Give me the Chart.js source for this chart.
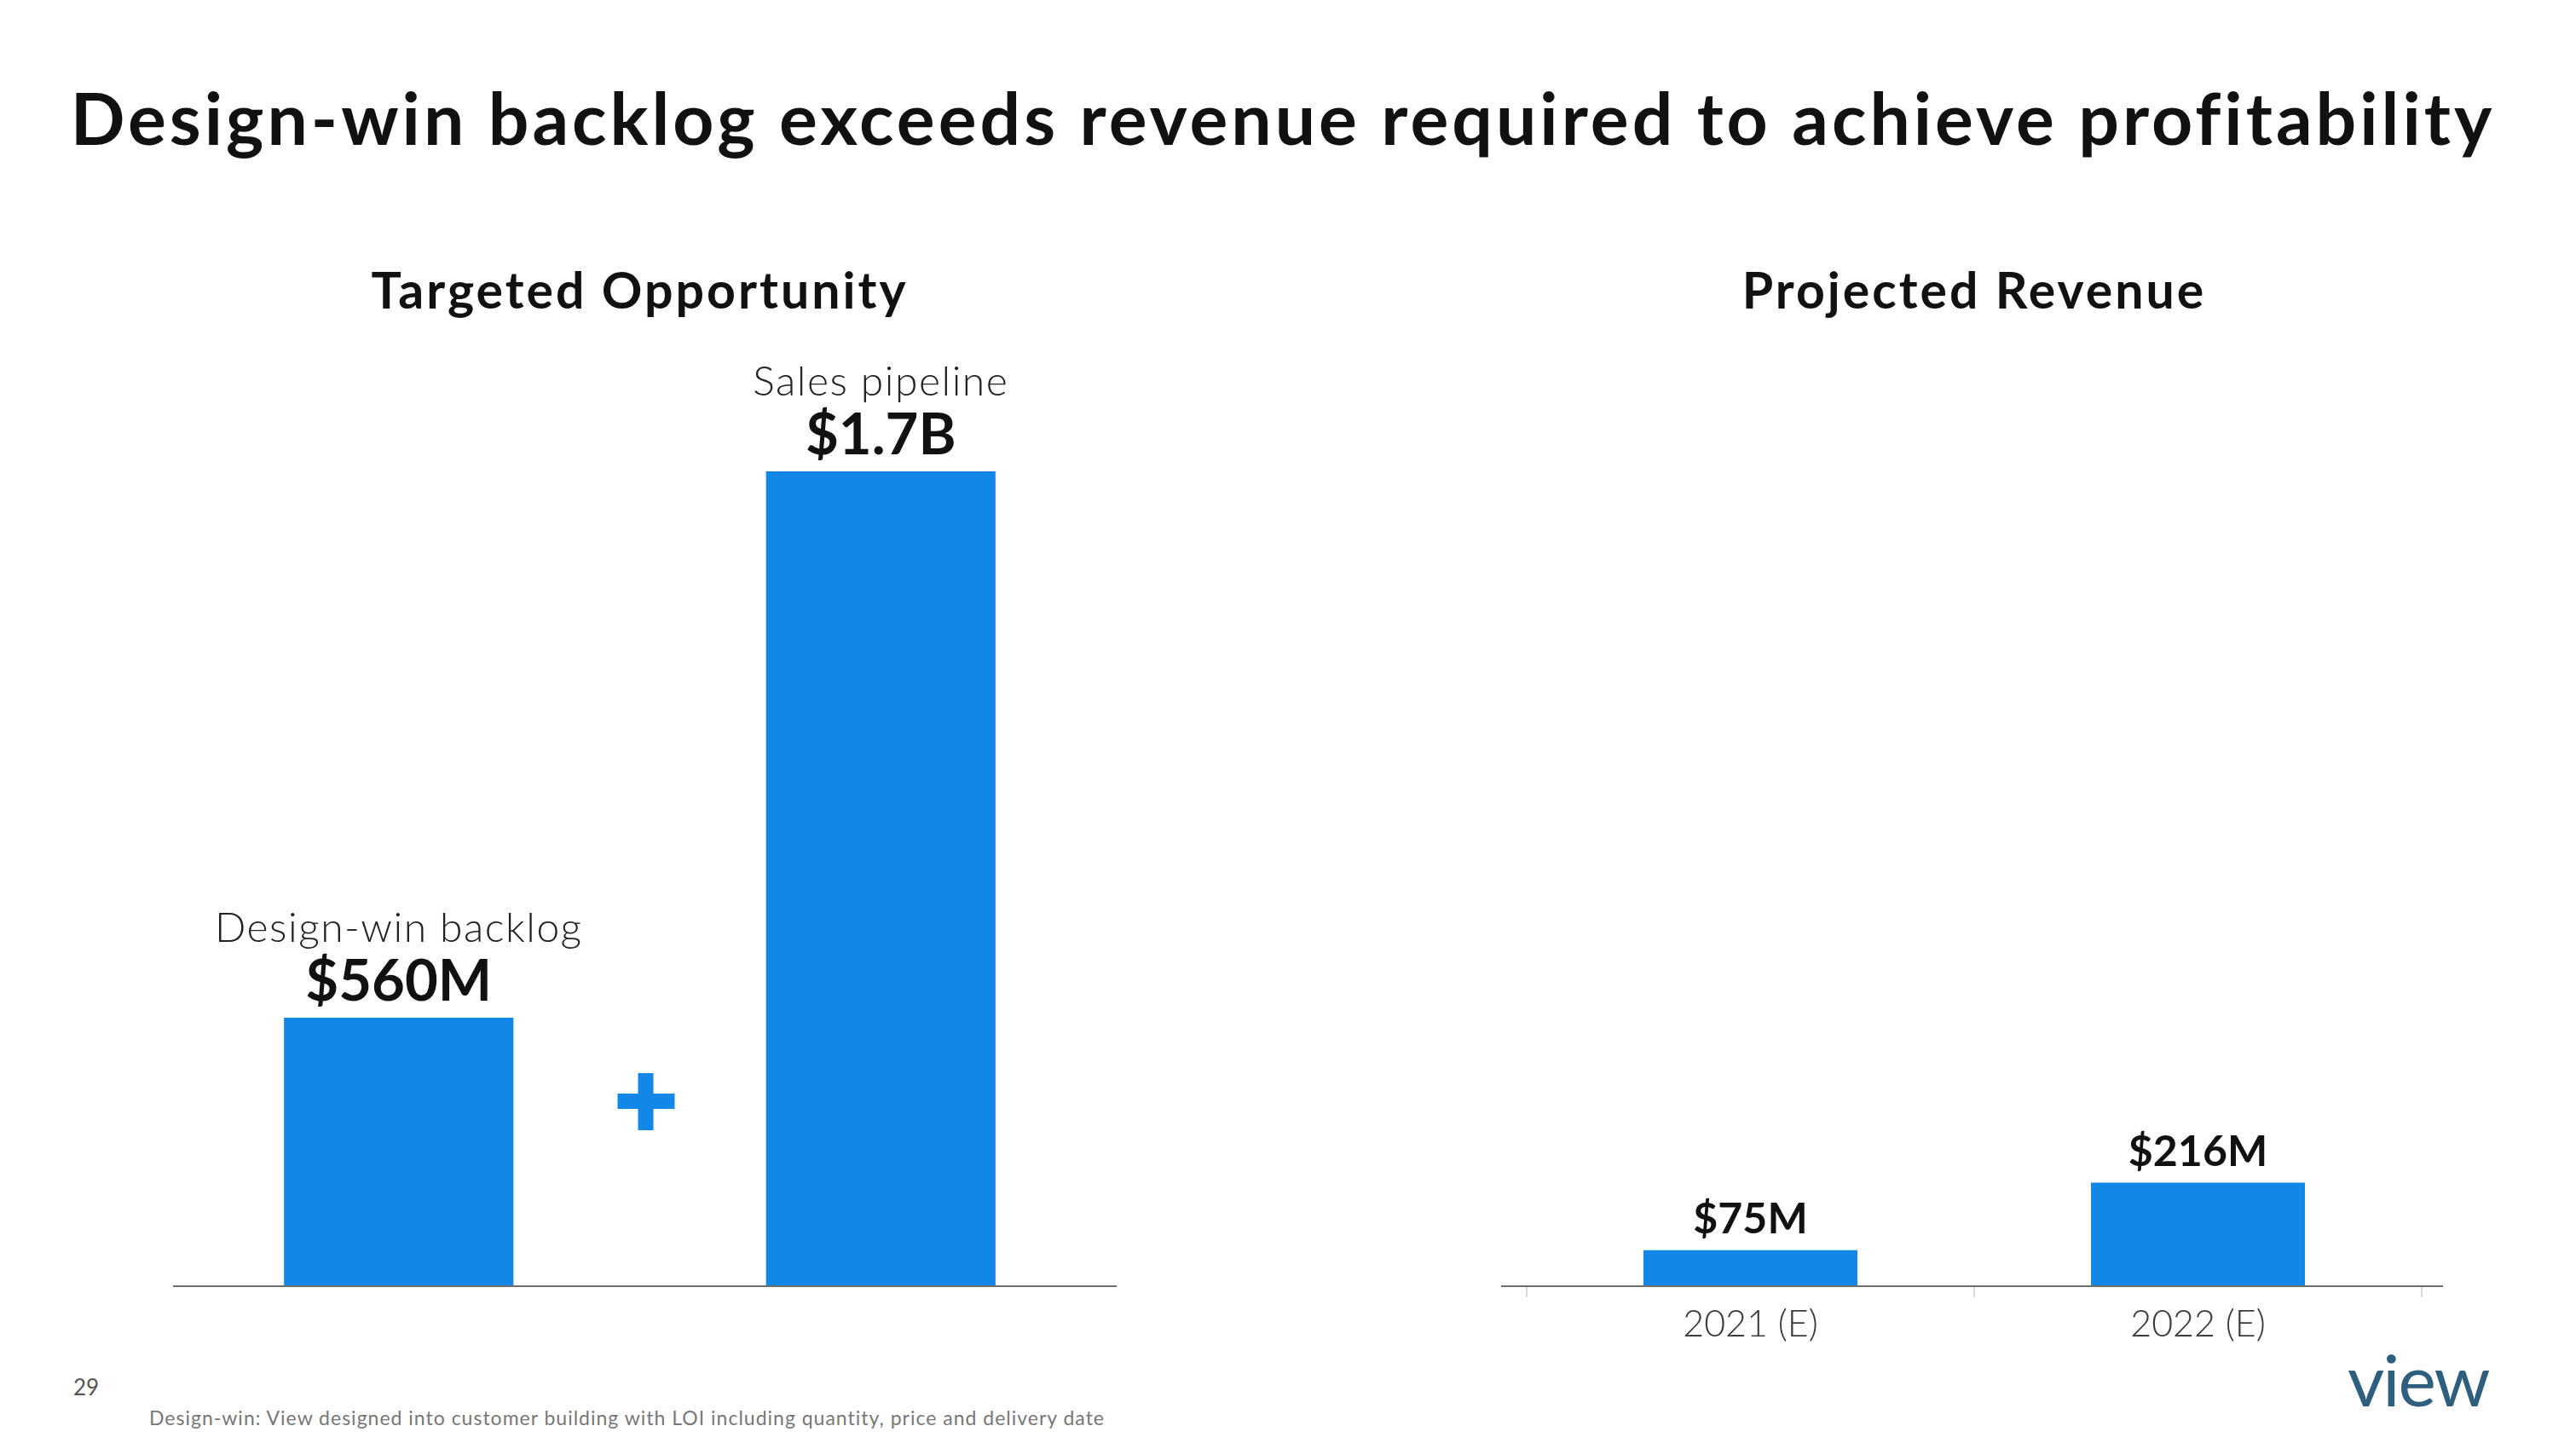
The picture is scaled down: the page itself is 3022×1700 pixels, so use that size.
<!DOCTYPE html>
<html>
<head>
<meta charset="utf-8">
<script src="https://cdn.jsdelivr.net/npm/chart.js@4.4.0/dist/chart.umd.min.js"></script>
<style>
  body { margin: 0; background: #fff; font-family: Lato, sans-serif; }
  #page { position: relative; width: 3022px; height: 1700px; overflow: hidden; }
  #title { position: absolute; left: 0; top: 96px; width: 3010px; text-align: center;
           font: 700 84px/84px Lato, sans-serif; letter-spacing: 4px; color: #111; }
  canvas { position: absolute; }
  #pageNum { position: absolute; left: 86px; top: 1614px; font: 400 26px/26px Lato, sans-serif; color: #555; }
  #note { position: absolute; left: 175px; top: 1652px; font: 400 23px/23px Lato, sans-serif; letter-spacing: 1px; color: #777; }
  #logo { position: absolute; left: 2754px; top: 1576px; font: 400 84px/84px Lato, sans-serif; color: #2f5f7f; letter-spacing: -2px; }
</style>
</head>
<body>
<div id="page">
  <div id="title">Design-win backlog exceeds revenue required to achieve profitability</div>
  <canvas id="leftChart" width="1200" height="1320" style="left:150px; top:300px;"></canvas>
  <canvas id="rightChart" width="1250" height="1320" style="left:1700px; top:300px;"></canvas>
  <div id="pageNum">29</div>
  <div id="note">Design-win: View designed into customer building with LOI including quantity, price and delivery date</div>
  <div id="logo">view</div>
</div>
<script>
// left chart: targeted opportunity ($M)
const oppLabels = ['Design-win backlog', 'Sales pipeline'];
const oppValues = [560, 1700];
const oppValueText = ['$560M', '$1.7B'];

// right chart: projected revenue ($M)
const revLabels = ['2021 (E)', '2022 (E)'];
const revValues = [75, 216];
const revValueText = ['$75M', '$216M'];

// both charts share one value scale so the bars compare
const yMax = 1800;

const BLUE = '#1287e8';

// wider tracking for the chart titles only (ticks are drawn later, z=1)
const titleSpacing = {
  id: 'titleSpacing',
  beforeDraw(chart) { chart.ctx.letterSpacing = '3px'; },
  beforeDatasetsDraw(chart) { chart.ctx.letterSpacing = '0px'; }
};

// draws "$xxx" above each bar, and for the left chart the caption above that
const barLabels = {
  id: 'barLabels',
  afterDatasetsDraw(chart, args, opts) {
    const ctx = chart.ctx;
    const meta = chart.getDatasetMeta(0);
    ctx.save();
    ctx.textAlign = 'center';
    ctx.textBaseline = 'alphabetic';
    meta.data.forEach((bar, i) => {
      const base = bar.y - opts.gap;
      ctx.letterSpacing = '0px';
      ctx.fillStyle = '#111';
      ctx.font = '700 ' + opts.valueSize + 'px Lato';
      ctx.fillText(opts.values[i], bar.x, base);
      if (opts.captions) {
        ctx.letterSpacing = '1.5px';
        ctx.fillStyle = '#222';
        ctx.font = '300 ' + opts.captionSize + 'px Lato';
        ctx.fillText(opts.captions[i], bar.x, base - opts.captionGap);
      }
    });
    ctx.restore();
  }
};

// dark baseline under the bars
const baseLine = {
  id: 'baseLine',
  afterDatasetsDraw(chart, args, opts) {
    const a = chart.chartArea;
    const ctx = chart.ctx;
    ctx.save();
    ctx.strokeStyle = '#6e6e6e';
    ctx.lineWidth = 2;
    ctx.beginPath();
    ctx.moveTo(a.left - opts.extLeft, a.bottom);
    ctx.lineTo(a.right + opts.extRight, a.bottom);
    ctx.stroke();
    ctx.restore();
  }
};

// blue plus between the two opportunity bars
const plusSign = {
  id: 'plusSign',
  afterDatasetsDraw(chart, args, opts) {
    if (!opts.show) return;
    const x = chart.scales.x;
    const cx = (x.getPixelForValue(0) + x.getPixelForValue(1)) / 2 + 7;
    const cy = chart.chartArea.bottom - 217;
    const ctx = chart.ctx;
    ctx.save();
    ctx.fillStyle = BLUE;
    ctx.fillRect(cx - 33, cy - 9, 67, 18);
    ctx.fillRect(cx - 9, cy - 33, 18, 67);
    ctx.restore();
  }
};

Chart.defaults.font.family = 'Lato';

function makeChart(id, labels, values, cfg) {
  return new Chart(document.getElementById(id), {
    type: 'bar',
    data: {
      labels: labels,
      datasets: [{
        data: values,
        backgroundColor: BLUE,
        barPercentage: cfg.barPct,
        categoryPercentage: 1
      }]
    },
    options: {
      responsive: false,
      animation: false,
      devicePixelRatio: 1,
      layout: { padding: { left: cfg.padLeft, right: cfg.padRight, top: 0, bottom: 11 } },
      scales: {
        x: {
          afterFit: scale => { scale.height = 100; },
          grid: {
            display: cfg.showTicks,
            drawOnChartArea: false,
            offset: true,
            tickLength: 13,
            color: '#d9d9d9',
            lineWidth: 2
          },
          border: { display: cfg.showTicks, color: '#d9d9d9', width: 2 },
          ticks: {
            display: cfg.showTicks,
            z: 1,
            color: '#3a3a3a',
            padding: 6,
            font: { size: 43, weight: 300 }
          }
        },
        y: { display: false, min: 0, max: yMax }
      },
      plugins: {
        legend: { display: false },
        tooltip: { enabled: false },
        title: {
          display: true,
          text: cfg.title,
          color: '#111',
          font: { size: 59, weight: 700, lineHeight: 1.2 },
          padding: { top: 8, bottom: 118 }
        },
        barLabels: cfg.labelOpts,
        baseLine: { extLeft: cfg.extLeft, extRight: cfg.extRight },
        plusSign: { show: cfg.plus }
      }
    },
    plugins: [titleSpacing, barLabels, baseLine, plusSign]
  });
}

makeChart('leftChart', oppLabels, oppValues, {
  title: 'Targeted Opportunity',
  barPct: 0.476,
  padLeft: 35, padRight: 34,
  extLeft: -18, extRight: -6,
  showTicks: false,
  plus: true,
  labelOpts: { values: oppValueText, captions: oppLabels, valueSize: 67, captionSize: 48, gap: 20, captionGap: 69 }
});

makeChart('rightChart', revLabels, revValues, {
  title: 'Projected Revenue',
  barPct: 0.478,
  padLeft: 91, padRight: 109,
  extLeft: 30, extRight: 25,
  showTicks: true,
  plus: false,
  labelOpts: { values: revValueText, captions: null, valueSize: 50, captionSize: 0, gap: 20, captionGap: 0 }
});
</script>
</body>
</html>
